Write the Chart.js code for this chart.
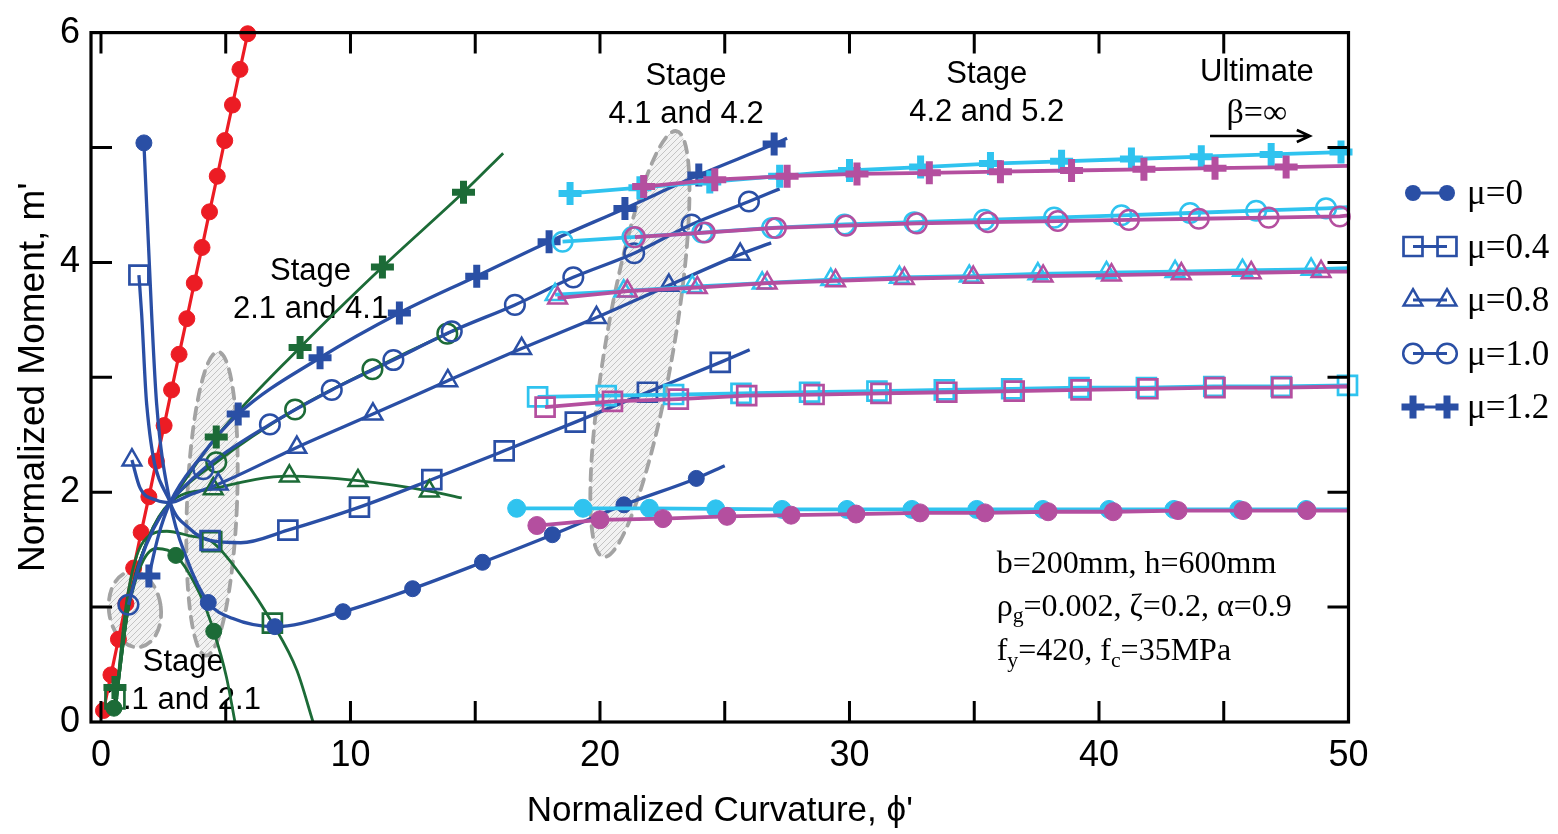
<!DOCTYPE html>
<html>
<head>
<meta charset="utf-8">
<script src="https://cdn.jsdelivr.net/npm/chart.js@4.4.1/dist/chart.umd.min.js"></script>
<style>
  html, body { margin: 0; padding: 0; background: #ffffff; }
  canvas { display: block; }
</style>
</head>
<body>
<canvas id="mc" width="1558" height="834"></canvas>
<script>
// ---------- axis ticks ----------
const xTickValues = [0, 10, 20, 30, 40, 50];
const yTickValues = [0, 2, 4, 6];
const xTickMarks = [0, 5, 10, 15, 20, 25, 30, 35, 40, 45];
const yTickMarks = [1, 2, 3, 4, 5];

// ---------- elastic line (red) ----------
const redX = [0.1, 0.4, 0.7, 1.0, 1.31, 1.61, 1.92, 2.22, 2.53, 2.83, 3.13, 3.44, 3.74, 4.05, 4.35, 4.66, 4.96, 5.27, 5.57, 5.88];
const redY = [0.1, 0.41, 0.72, 1.03, 1.34, 1.65, 1.96, 2.27, 2.58, 2.89, 3.2, 3.51, 3.82, 4.13, 4.44, 4.75, 5.06, 5.37, 5.68, 5.99];

// ---------- blue curves (mu = 0 ... 1.2) ----------
const mu0LineX = [1.72, 2.03, 2.23, 2.77, 3.44, 4.3, 5.29, 6.97, 9.7, 12.49, 15.29, 18.09, 20.96, 23.86, 25.0];
const mu0LineY = [5.04, 3.55, 2.77, 1.91, 1.42, 1.04, 0.9, 0.83, 0.96, 1.16, 1.39, 1.63, 1.89, 2.12, 2.23];
const mu0MarkX = [1.72, 4.3, 6.97, 9.7, 12.49, 15.29, 18.09, 20.96, 23.86];
const mu0MarkY = [5.04, 1.04, 0.83, 0.96, 1.16, 1.39, 1.63, 1.89, 2.12];

const mu04LineX = [1.52, 1.63, 1.83, 2.77, 3.57, 4.37, 5.6, 7.49, 10.36, 13.26, 16.16, 19.01, 21.9, 24.82, 26.0];
const mu04LineY = [3.89, 3.55, 2.77, 1.91, 1.68, 1.58, 1.56, 1.67, 1.87, 2.11, 2.36, 2.61, 2.87, 3.13, 3.24];
const mu04MarkX = [1.52, 4.37, 7.49, 10.36, 13.26, 16.16, 19.01, 21.9, 24.82];
const mu04MarkY = [3.89, 1.58, 1.67, 1.87, 2.11, 2.36, 2.61, 2.87, 3.13];

const mu08LineX = [1.24, 1.56, 2.23, 2.77, 3.6, 4.7, 7.85, 10.9, 13.9, 16.86, 19.86, 22.76, 25.62, 26.86];
const mu08LineY = [2.28, 2.04, 1.93, 1.91, 1.98, 2.07, 2.39, 2.68, 2.97, 3.25, 3.52, 3.8, 4.07, 4.17];
const mu08MarkX = [1.24, 4.7, 7.85, 10.9, 13.9, 16.86, 19.86, 22.76, 25.62];
const mu08MarkY = [2.28, 2.07, 2.39, 2.68, 2.97, 3.25, 3.52, 3.8, 4.07];

const mu10LineX = [1.1, 1.56, 2.1, 2.77, 4.1, 6.77, 9.25, 11.72, 14.06, 16.59, 18.93, 21.37, 23.67, 25.97, 27.2];
const mu10LineY = [1.02, 1.39, 1.68, 1.91, 2.2, 2.59, 2.89, 3.15, 3.4, 3.63, 3.87, 4.08, 4.33, 4.53, 4.64];
const mu10MarkX = [1.1, 4.1, 6.77, 9.25, 11.72, 14.06, 16.59, 18.93, 21.37, 23.67, 25.97];
const mu10MarkY = [1.02, 2.2, 2.59, 2.89, 3.15, 3.4, 3.63, 3.87, 4.08, 4.33, 4.53];

const mu12LineX = [1.92, 2.3, 2.77, 3.97, 5.5, 8.78, 11.96, 15.06, 17.96, 21.0, 23.96, 26.98, 27.5];
const mu12LineY = [1.27, 1.62, 1.91, 2.3, 2.68, 3.17, 3.56, 3.88, 4.18, 4.47, 4.76, 5.03, 5.08];
const mu12MarkX = [1.92, 5.5, 8.78, 11.96, 15.06, 17.96, 21.0, 23.96, 26.98];
const mu12MarkY = [1.27, 2.68, 3.17, 3.56, 3.88, 4.18, 4.47, 4.76, 5.03];

// ---------- green curves ----------
const g0LineX = [0.56, 0.9, 1.56, 2.23, 3.0, 3.97, 4.52, 5.03, 5.37];
const g0LineY = [0.1, 0.76, 1.34, 1.51, 1.45, 1.11, 0.79, 0.39, 0.0];
const g0MarkX = [0.52, 3.0, 4.52];
const g0MarkY = [0.12, 1.45, 0.79];

const g04LineX = [0.56, 1.03, 1.7, 2.64, 3.56, 4.44, 5.7, 6.87, 7.85, 8.5];
const g04LineY = [0.1, 1.05, 1.57, 1.66, 1.62, 1.57, 1.25, 0.86, 0.45, 0.0];
const g04MarkX = [0.56, 4.44, 6.87];
const g04MarkY = [0.2, 1.57, 0.86];

const g08LineX = [0.56, 1.1, 1.9, 2.77, 4.5, 7.55, 10.3, 13.16, 14.46];
const g08LineY = [0.1, 1.0, 1.6, 1.91, 2.03, 2.14, 2.1, 2.01, 1.95];
const g08MarkX = [4.5, 7.55, 10.3, 13.16];
const g08MarkY = [2.03, 2.14, 2.1, 2.01];

const g10LineX = [0.56, 1.1, 1.9, 2.77, 4.62, 7.78, 10.88, 13.88, 14.2];
const g10LineY = [0.1, 1.0, 1.6, 1.91, 2.26, 2.72, 3.07, 3.38, 3.41];
const g10MarkX = [4.62, 7.78, 10.88, 13.88];
const g10MarkY = [2.26, 2.72, 3.07, 3.38];

const g12LineX = [0.56, 1.1, 1.9, 2.77, 4.62, 7.98, 11.28, 14.53, 16.12];
const g12LineY = [0.1, 1.0, 1.6, 1.91, 2.48, 3.26, 3.96, 4.61, 4.95];
const g12MarkX = [0.56, 4.62, 7.98, 11.28, 14.53];
const g12MarkY = [0.3, 2.48, 3.26, 3.96, 4.61];

// ---------- ultimate branches (cyan and magenta) ----------
const c0X = [16.66, 19.32, 21.98, 24.64, 27.3, 29.9, 32.5, 35.1, 37.75, 40.4, 43.0, 45.6, 48.3];
const c0Y = [1.86, 1.86, 1.86, 1.855, 1.85, 1.85, 1.85, 1.85, 1.85, 1.85, 1.85, 1.85, 1.85];
const m0X = [17.47, 20.0, 22.52, 25.09, 27.66, 30.26, 32.83, 35.43, 37.96, 40.57, 43.17, 45.77, 48.34];
const m0Y = [1.71, 1.76, 1.77, 1.79, 1.8, 1.81, 1.82, 1.82, 1.83, 1.83, 1.84, 1.84, 1.84];

const c04X = [17.5, 20.25, 22.95, 25.65, 28.4, 31.1, 33.8, 36.5, 39.2, 41.9, 44.6, 47.3, 49.96];
const c04Y = [2.83, 2.84, 2.85, 2.86, 2.87, 2.88, 2.89, 2.9, 2.91, 2.91, 2.92, 2.92, 2.93];
const m04X = [17.8, 20.5, 23.14, 25.88, 28.58, 31.26, 33.9, 36.6, 39.28, 41.96, 44.65, 47.33];
const m04Y = [2.74, 2.79, 2.81, 2.84, 2.85, 2.86, 2.87, 2.88, 2.89, 2.9, 2.91, 2.91];

const c08X = [18.2, 20.95, 23.7, 26.5, 29.25, 32.0, 34.8, 37.55, 40.3, 43.05, 45.75, 48.5];
const c08Y = [3.72, 3.75, 3.79, 3.82, 3.85, 3.87, 3.88, 3.9, 3.91, 3.92, 3.93, 3.94];
const m08X = [18.3, 21.1, 23.9, 26.7, 29.44, 32.2, 34.96, 37.76, 40.5, 43.3, 46.1, 48.9];
const m08Y = [3.69, 3.75, 3.78, 3.82, 3.84, 3.86, 3.87, 3.88, 3.89, 3.9, 3.91, 3.92];

const c10X = [18.5, 21.3, 24.1, 26.9, 29.8, 32.6, 35.4, 38.2, 40.9, 43.65, 46.3, 49.1];
const c10Y = [4.18, 4.22, 4.26, 4.3, 4.33, 4.35, 4.37, 4.39, 4.41, 4.43, 4.45, 4.47];
const m10X = [21.4, 24.2, 27.05, 29.86, 32.7, 35.55, 38.35, 41.2, 44.0, 46.8, 49.65];
const m10Y = [4.22, 4.26, 4.3, 4.32, 4.34, 4.35, 4.36, 4.37, 4.38, 4.39, 4.4];

const c12X = [18.8, 21.6, 24.4, 27.2, 30.0, 32.85, 35.65, 38.5, 41.3, 44.1, 46.9, 49.7];
const c12Y = [4.6, 4.65, 4.7, 4.75, 4.8, 4.83, 4.86, 4.88, 4.9, 4.92, 4.94, 4.96];
const m12X = [21.75, 24.6, 27.5, 30.3, 33.2, 36.05, 38.9, 41.8, 44.65, 47.5];
const m12Y = [4.66, 4.72, 4.75, 4.77, 4.78, 4.79, 4.8, 4.81, 4.82, 4.83];

// value each branch reaches at the right edge (phi' = 50)
const edgeX = 50;
const c0End = 1.85, m0End = 1.84, c04End = 2.93, m04End = 2.92;
const c08End = 3.95, m08End = 3.92, c10End = 4.48, m10End = 4.41;
const c12End = 4.97, m12End = 4.84;

const legendLabels = ['μ=0', 'μ=0.4', 'μ=0.8', 'μ=1.0', 'μ=1.2'];

// ---------- styles ----------
const COL = { blue: '#2a4fa5', green: '#1c6b37', red: '#ec1c24', cyan: '#2fc3ef', magenta: '#b44f9f' };
const SANS = '"Liberation Sans", Arial, sans-serif';
const SERIF = '"Liberation Serif", "Times New Roman", serif';
const MARK = {
  dot:    { shape: 'circle',   r: 8,    bw: 1,   filled: true },
  bigdot: { shape: 'circle',   r: 9,    bw: 1,   filled: true },
  square: { shape: 'rect',     r: 13.4, bw: 2.7, filled: false },
  tri:    { shape: 'triangle', r: 10.8, bw: 2.5, filled: false },
  ring:   { shape: 'circle',   r: 9.8,  bw: 2.5, filled: false },
  plus:   { shape: 'cross',    r: 11.5, bw: 7,   filled: false }
};

const pts = (xs, ys) => xs.map((x, i) => ({ x: x, y: ys[i] }));
const datasets = [];
function addCurve(xs, ys, color, width, order, smooth) {
  datasets.push({
    data: pts(xs, ys), showLine: true, pointRadius: 0, pointHoverRadius: 0,
    borderColor: color, backgroundColor: color, borderWidth: width,
    cubicInterpolationMode: smooth ? 'monotone' : 'default', tension: 0, order: order
  });
}
function addMarks(xs, ys, kind, color, order) {
  const m = MARK[kind];
  datasets.push({
    data: pts(xs, ys), showLine: false, pointStyle: m.shape, pointRadius: m.r, pointHoverRadius: m.r,
    pointBorderWidth: m.bw, pointBorderColor: color, borderColor: color,
    pointBackgroundColor: m.filled ? color : 'rgba(0,0,0,0)', backgroundColor: m.filled ? color : 'rgba(0,0,0,0)',
    order: order, clip: false
  });
}

// red elastic line
addCurve(redX, redY, COL.red, 3.2, 90, false);
addMarks(redX, redY, 'dot', COL.red, 89);

// green branches
addCurve(g0LineX, g0LineY, COL.green, 2.8, 80, true);
addCurve(g04LineX, g04LineY, COL.green, 2.8, 80, true);
addCurve(g08LineX, g08LineY, COL.green, 2.8, 80, true);
addCurve(g10LineX, g10LineY, COL.green, 2.8, 80, true);
addCurve(g12LineX, g12LineY, COL.green, 2.8, 80, true);
addMarks(g0MarkX, g0MarkY, 'dot', COL.green, 60);
addMarks(g04MarkX, g04MarkY, 'square', COL.green, 60);
addMarks(g08MarkX, g08MarkY, 'tri', COL.green, 60);
addMarks(g10MarkX, g10MarkY, 'ring', COL.green, 60);
addMarks(g12MarkX, g12MarkY, 'plus', COL.green, 60);

// blue branches
addCurve(mu0LineX, mu0LineY, COL.blue, 3.3, 70, true);
addCurve(mu04LineX, mu04LineY, COL.blue, 3.3, 70, true);
addCurve(mu08LineX, mu08LineY, COL.blue, 3.3, 70, true);
addCurve(mu10LineX, mu10LineY, COL.blue, 3.3, 70, true);
addCurve(mu12LineX, mu12LineY, COL.blue, 3.3, 70, true);
addMarks(mu0MarkX, mu0MarkY, 'dot', COL.blue, 55);
addMarks(mu04MarkX, mu04MarkY, 'square', COL.blue, 55);
addMarks(mu08MarkX, mu08MarkY, 'tri', COL.blue, 55);
addMarks(mu10MarkX, mu10MarkY, 'ring', COL.blue, 55);
addMarks(mu12MarkX, mu12MarkY, 'plus', COL.blue, 55);

// ultimate branches: cyan under magenta
const branches = [
  [c0X, c0Y, c0End, 'bigdot', COL.cyan, 40], [c04X, c04Y, c04End, 'square', COL.cyan, 40],
  [c08X, c08Y, c08End, 'tri', COL.cyan, 40], [c10X, c10Y, c10End, 'ring', COL.cyan, 40],
  [c12X, c12Y, c12End, 'plus', COL.cyan, 40],
  [m0X, m0Y, m0End, 'bigdot', COL.magenta, 20], [m04X, m04Y, m04End, 'square', COL.magenta, 20],
  [m08X, m08Y, m08End, 'tri', COL.magenta, 20], [m10X, m10Y, m10End, 'ring', COL.magenta, 20],
  [m12X, m12Y, m12End, 'plus', COL.magenta, 20]
];
branches.forEach(([xs, ys, end, kind, col, ord]) => {
  const lx = xs[xs.length - 1] < edgeX ? xs.concat([edgeX]) : xs.slice();
  const ly = xs[xs.length - 1] < edgeX ? ys.concat([end]) : ys.slice();
  addCurve(lx, ly, col, 3.8, ord + 1, false);
  addMarks(xs, ys, kind, col, ord);
});

// ---------- decorations ----------
const hatchZones = [
  { x: 1.36, y: 0.98, rx: 26, ry: 38, rot: -0.12 },
  { x: 4.45, y: 1.90, rx: 25, ry: 152, rot: 0.04 },
  { x: 21.6, y: 3.29, rx: 34, ry: 216, rot: 0.17 }
];
const stageNotes = [
  { x: 8.4, y: 3.92, lines: ['Stage', '2.1 and 4.1'] },
  { x: 3.3, y: 0.52, lines: ['Stage', '1.1 and 2.1'] },
  { x: 23.45, y: 5.62, lines: ['Stage', '4.1 and 4.2'] },
  { x: 35.5, y: 5.64, lines: ['Stage', '4.2 and 5.2'] }
];
const ultimateNote = { x: 46.33, y: 5.65, arrowFrom: 44.45, arrowTo: 48.45, arrowY: 5.1 };
const paramNote = { x: 35.9, y: [1.37, 1.0, 0.61] };

function hatchFill(ctx) {
  const c = document.createElement('canvas');
  c.width = 6; c.height = 6;
  const g = c.getContext('2d');
  g.fillStyle = '#f2f2f2'; g.fillRect(0, 0, 6, 6);
  g.strokeStyle = '#c4c4c4'; g.lineWidth = 1;
  g.beginPath();
  g.moveTo(-1, 7); g.lineTo(7, -1);
  g.moveTo(-4, 4); g.lineTo(4, -4);
  g.moveTo(2, 10); g.lineTo(10, 2);
  g.stroke();
  return ctx.createPattern(c, 'repeat');
}

function drawRich(ctx, x, y, parts, size) {
  let cx = x;
  parts.forEach(p => {
    const fs = p.sub ? size * 0.68 : size;
    ctx.font = fs + 'px ' + SERIF;
    ctx.fillText(p.t, cx, p.sub ? y + size * 0.28 : y);
    cx += ctx.measureText(p.t).width;
  });
}

const backdropPlugin = {
  id: 'backdrop',
  beforeDatasetsDraw(chart) {
    const { ctx, scales: { x, y } } = chart;
    ctx.save();
    const pat = hatchFill(ctx);
    hatchZones.forEach(z => {
      ctx.beginPath();
      ctx.ellipse(x.getPixelForValue(z.x), y.getPixelForValue(z.y), z.rx, z.ry, z.rot, 0, Math.PI * 2);
      ctx.fillStyle = pat; ctx.fill();
      ctx.setLineDash([11, 8]); ctx.lineCap = 'round';
      ctx.strokeStyle = '#a3a3a3'; ctx.lineWidth = 3.8; ctx.stroke();
    });
    ctx.setLineDash([]);

    ctx.fillStyle = '#000';
    ctx.textAlign = 'center'; ctx.textBaseline = 'middle';
    ctx.font = '31px ' + SANS;
    stageNotes.forEach(n => {
      const px = x.getPixelForValue(n.x), py = y.getPixelForValue(n.y);
      n.lines.forEach((t, i) => ctx.fillText(t, px, py + i * 38));
    });
    const ux = x.getPixelForValue(ultimateNote.x), uy = y.getPixelForValue(ultimateNote.y);
    ctx.fillText('Ultimate', ux, uy);
    ctx.font = '34px ' + SERIF;
    ctx.fillText('β=∞', ux, uy + 41);
    const ay = y.getPixelForValue(ultimateNote.arrowY);
    const a0 = x.getPixelForValue(ultimateNote.arrowFrom), a1 = x.getPixelForValue(ultimateNote.arrowTo);
    ctx.strokeStyle = '#000'; ctx.lineWidth = 2.6; ctx.lineCap = 'butt';
    ctx.beginPath(); ctx.moveTo(a0, ay); ctx.lineTo(a1, ay);
    ctx.moveTo(a1 - 13, ay - 6); ctx.lineTo(a1, ay); ctx.lineTo(a1 - 13, ay + 6);
    ctx.stroke();

    ctx.textAlign = 'left';
    const px = x.getPixelForValue(paramNote.x);
    drawRich(ctx, px, y.getPixelForValue(paramNote.y[0]), [{ t: 'b=200mm, h=600mm' }], 32);
    drawRich(ctx, px, y.getPixelForValue(paramNote.y[1]), [{ t: 'ρ' }, { t: 'g', sub: true }, { t: '=0.002, ζ=0.2, α=0.9' }], 32);
    drawRich(ctx, px, y.getPixelForValue(paramNote.y[2]), [{ t: 'f' }, { t: 'y', sub: true }, { t: '=420, f' }, { t: 'c', sub: true }, { t: '=35MPa' }], 32);
    ctx.restore();
  }
};

const framePlugin = {
  id: 'frame',
  afterDatasetsDraw(chart) {
    const { ctx, chartArea: a, scales: { x, y } } = chart;
    const L = 21;
    ctx.save();
    ctx.strokeStyle = '#000'; ctx.lineWidth = 3;
    ctx.beginPath();
    xTickMarks.forEach(v => {
      const p = x.getPixelForValue(v);
      ctx.moveTo(p, a.bottom); ctx.lineTo(p, a.bottom - L);
      ctx.moveTo(p, a.top); ctx.lineTo(p, a.top + L);
    });
    yTickMarks.forEach(v => {
      const p = y.getPixelForValue(v);
      ctx.moveTo(a.left, p); ctx.lineTo(a.left + L, p);
      ctx.moveTo(a.right, p); ctx.lineTo(a.right - L, p);
    });
    ctx.stroke();
    ctx.lineWidth = 3.2;
    ctx.strokeRect(a.left, a.top, a.right - a.left, a.bottom - a.top);
    ctx.restore();
  }
};

function drawMarker(ctx, kind, cx, cy) {
  const m = MARK[kind];
  ctx.lineWidth = m.bw;
  ctx.beginPath();
  if (m.shape === 'circle') {
    ctx.arc(cx, cy, m.r, 0, Math.PI * 2);
    if (m.filled) ctx.fill(); else ctx.stroke();
  } else if (m.shape === 'rect') {
    const h = m.r * Math.SQRT1_2;
    ctx.rect(cx - h, cy - h, 2 * h, 2 * h); ctx.stroke();
  } else if (m.shape === 'triangle') {
    for (let k = 0; k < 3; k++) {
      const ang = k * 2 * Math.PI / 3;
      const px = cx + Math.sin(ang) * m.r, py = cy - Math.cos(ang) * m.r;
      if (k === 0) ctx.moveTo(px, py); else ctx.lineTo(px, py);
    }
    ctx.closePath(); ctx.stroke();
  } else {
    ctx.moveTo(cx - m.r, cy); ctx.lineTo(cx + m.r, cy);
    ctx.moveTo(cx, cy - m.r); ctx.lineTo(cx, cy + m.r); ctx.stroke();
  }
}

const keyPlugin = {
  id: 'key',
  afterDraw(chart) {
    const { ctx, chartArea: a } = chart;
    const kinds = ['dot', 'square', 'tri', 'ring', 'plus'];
    ctx.save();
    ctx.strokeStyle = COL.blue; ctx.fillStyle = COL.blue;
    legendLabels.forEach((lab, i) => {
      const cy = 193 + i * 53.5;
      const x0 = a.right + 64.5, x1 = a.right + 98.5;
      ctx.lineWidth = 3;
      ctx.beginPath(); ctx.moveTo(x0, cy); ctx.lineTo(x1, cy); ctx.stroke();
      drawMarker(ctx, kinds[i], x0, cy);
      drawMarker(ctx, kinds[i], x1, cy);
    });
    ctx.fillStyle = '#000';
    ctx.font = '35px ' + SERIF;
    ctx.textAlign = 'left'; ctx.textBaseline = 'middle';
    legendLabels.forEach((lab, i) => ctx.fillText(lab, a.right + 118.5, 193 + i * 53.5 + 2));
    ctx.restore();
  }
};

new Chart(document.getElementById('mc'), {
  type: 'scatter',
  data: { datasets: datasets },
  options: {
    responsive: false,
    animation: false,
    devicePixelRatio: 1,
    events: [],
    layout: { padding: { top: 25, right: 209.5, left: 0, bottom: 0 } },
    plugins: { legend: { display: false }, tooltip: { enabled: false } },
    scales: {
      x: {
        type: 'linear', min: -0.4, max: 50,
        afterBuildTicks: s => { s.ticks = xTickValues.map(v => ({ value: v })); },
        afterFit: s => { s.height = 112; },
        grid: { display: false, drawTicks: false },
        border: { display: false },
        ticks: { color: '#000', font: { family: SANS, size: 36 }, padding: 12, maxRotation: 0, autoSkip: false },
        title: { display: true, text: "Normalized Curvature, ϕ'", color: '#000', font: { family: SANS, size: 35 }, padding: { top: 0, bottom: 2 } }
      },
      y: {
        type: 'linear', min: 0, max: 6,
        afterBuildTicks: s => { s.ticks = yTickValues.map(v => ({ value: v })); },
        afterFit: s => { s.width = 91; },
        grid: { display: false, drawTicks: false },
        border: { display: false },
        ticks: { color: '#000', font: { family: SANS, size: 36 }, padding: 11, autoSkip: false },
        title: { display: true, text: "Normalized Moment, m'", color: '#000', font: { family: SANS, size: 37 }, padding: { top: 12, bottom: 0 } }
      }
    }
  },
  plugins: [backdropPlugin, framePlugin, keyPlugin]
});
</script>
</body>
</html>
